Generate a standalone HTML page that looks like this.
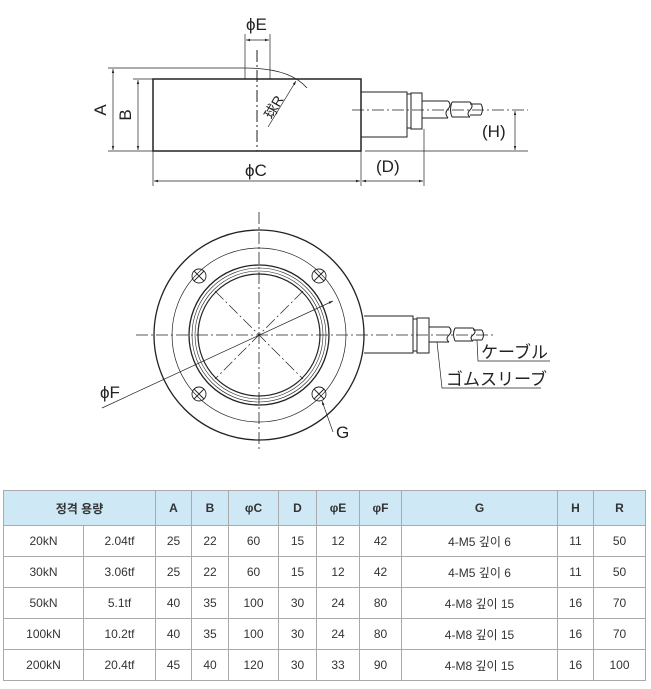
<!DOCTYPE html>
<html><head><meta charset="utf-8"><style>
body{margin:0;background:#fff;width:651px;height:689px;overflow:hidden;position:relative;font-family:"Liberation Sans","Noto Sans CJK KR",sans-serif}
svg{position:absolute;left:0;top:0}
table{position:absolute;left:3px;top:490px;border-collapse:collapse;font-size:12px;color:#333;table-layout:fixed}
td,th{border:1px solid #aaa;text-align:center;padding:0;height:30px}
th{background:#cfe8f5;font-weight:bold;height:34px}
</style></head><body>
<svg width="651" height="480" viewBox="0 0 651 480" font-family="Liberation Sans, Noto Sans CJK JP, sans-serif" fill="none" stroke="#222" stroke-width="1">
<defs><marker id="a" viewBox="0 0 10 10" refX="10" refY="5" markerWidth="6" markerHeight="6" orient="auto-start-reverse"><path d="M0,2 L10,5 L0,8" fill="#222" stroke="none"/></marker></defs>
<rect x="153" y="79" width="208" height="72" stroke-width="1.5"/>
<line x1="257" y1="50" x2="257" y2="151" stroke-dasharray="12,3,2,3"/>
<line x1="108" y1="68" x2="245" y2="68" stroke-width="0.7"/>
<line x1="133" y1="79" x2="153" y2="79" stroke-width="0.7"/>
<line x1="108" y1="151" x2="153" y2="151" stroke-width="0.7"/>
<line x1="113" y1="69" x2="113" y2="150" marker-start="url(#a)" marker-end="url(#a)" stroke-width="0.7"/>
<line x1="138" y1="80" x2="138" y2="150" marker-start="url(#a)" marker-end="url(#a)" stroke-width="0.7"/>
<line x1="245" y1="34" x2="245" y2="79" stroke-width="0.7"/>
<line x1="270" y1="34" x2="270" y2="79" stroke-width="0.7"/>
<line x1="246" y1="40" x2="269" y2="40" marker-start="url(#a)" marker-end="url(#a)" stroke-width="0.7"/>
<path d="M245,68 Q290,68 307,88" stroke-width="0.8"/>
<line x1="268" y1="127" x2="296" y2="81" marker-end="url(#a)" stroke-width="0.7"/>
<rect x="361" y="92" width="46" height="45"/>
<rect x="407" y="94" width="4" height="34"/>
<rect x="411" y="93" width="11" height="36"/>
<path d="M422,101 H448 M422,118 H448 M448,101 q4,4 0,8 q-4,4 0,9"/>
<path d="M452,102 H470 M452,117 H470 M452,102 q-3,8 0,15 M470,102 q4,4 0,8 q-4,4 0,7 M470,104 H481 M470,115 H481 M481,104 q3,5 0,11"/>
<line x1="352" y1="110" x2="528" y2="110" stroke-dasharray="12,3,2,3" stroke-width="0.8"/>
<line x1="365" y1="151" x2="528" y2="151" stroke-width="0.7"/>
<line x1="515" y1="111" x2="515" y2="150" marker-start="url(#a)" marker-end="url(#a)" stroke-width="0.7"/>
<line x1="153" y1="151" x2="153" y2="186" stroke-width="0.7"/>
<line x1="361" y1="151" x2="361" y2="186" stroke-width="0.7"/>
<line x1="424" y1="129" x2="424" y2="186" stroke-width="0.7"/>
<line x1="154" y1="181" x2="360" y2="181" marker-start="url(#a)" marker-end="url(#a)" stroke-width="0.7"/>
<line x1="362" y1="181" x2="423" y2="181" marker-start="url(#a)" marker-end="url(#a)" stroke-width="0.7"/>
<g fill="#222" stroke="none" font-size="17">
<text x="246" y="30">ϕE</text>
<text x="245" y="176">ϕC</text>
<text x="376" y="172">(D)</text>
<text x="482" y="137">(H)</text>
<text transform="translate(106,110) rotate(-90)" text-anchor="middle">A</text>
<text transform="translate(131,115) rotate(-90)" text-anchor="middle">B</text>
<text transform="translate(272,120) rotate(-60)" font-size="14">球R</text>
</g>
<line x1="259" y1="212" x2="259" y2="450" stroke-dasharray="12,3,2,3" stroke-width="0.8"/>
<line x1="136" y1="335" x2="495" y2="335" stroke-dasharray="12,3,2,3" stroke-width="0.8"/>
<circle cx="259" cy="335" r="105" stroke-width="1.3"/>
<circle cx="259" cy="335" r="87" stroke-width="0.7"/>
<circle cx="259" cy="335" r="70" stroke-width="1.3"/>
<circle cx="259" cy="335" r="67" stroke-width="0.6"/>
<circle cx="259" cy="335" r="64" stroke-width="0.6"/>
<circle cx="259" cy="335" r="61" stroke-width="1.2"/>
<g stroke-dasharray="12,3,2,3" stroke-width="0.7"><line x1="215" y1="291" x2="303" y2="379"/><line x1="303" y1="291" x2="215" y2="379"/></g>
<g stroke-width="0.9">
<circle cx="199" cy="276" r="7"/><path d="M194,271 l10,10 M204,271 l-10,10"/>
<circle cx="319" cy="276" r="7"/><path d="M314,271 l10,10 M324,271 l-10,10"/>
<circle cx="199" cy="394" r="7"/><path d="M194,389 l10,10 M204,389 l-10,10"/>
<circle cx="319" cy="394" r="7"/><path d="M314,389 l10,10 M324,389 l-10,10"/>
</g>
<line x1="102" y1="408" x2="333" y2="301" marker-end="url(#a)" stroke-width="0.7"/>
<line x1="333" y1="432" x2="322" y2="401" marker-end="url(#a)" stroke-width="0.7"/>
<path d="M364,316 H413 V353 H364"/>
<rect x="413" y="319" width="4" height="32"/>
<rect x="417" y="318" width="12" height="35"/>
<path d="M429,327 H449 M429,342 H449 M449,327 q4,4 0,8 q-4,4 0,7"/>
<path d="M455,328 H473 M455,341 H473 M455,328 q-3,6 0,13 M473,328 q4,4 0,7 q-4,3 0,6 M473,330 H482 M473,340 H482 M482,330 q3,5 0,10"/>
<path d="M437,342 L442,388 H541" stroke-width="0.7"/>
<path d="M477,340 L478,361 H550" stroke-width="0.7"/>
<g fill="#222" stroke="none" font-size="17">
<text x="100" y="398">ϕF</text>
<text x="336" y="438">G</text>
<text x="481" y="358">ケーブル</text>
<text x="446" y="385">ゴムスリーブ</text>
</g>
</svg>
<table>
<colgroup><col style="width:80px"><col style="width:72px"><col style="width:36px"><col style="width:37px"><col style="width:50px"><col style="width:38px"><col style="width:43px"><col style="width:42px"><col style="width:156px"><col style="width:36px"><col style="width:52px"></colgroup>
<tr><th colspan="2">정격 용량</th><th>A</th><th>B</th><th>φC</th><th>D</th><th>φE</th><th>φF</th><th>G</th><th>H</th><th>R</th></tr>
<tr><td>20kN</td><td>2.04tf</td><td>25</td><td>22</td><td>60</td><td>15</td><td>12</td><td>42</td><td>4-M5 깊이 6</td><td>11</td><td>50</td></tr>
<tr><td>30kN</td><td>3.06tf</td><td>25</td><td>22</td><td>60</td><td>15</td><td>12</td><td>42</td><td>4-M5 깊이 6</td><td>11</td><td>50</td></tr>
<tr><td>50kN</td><td>5.1tf</td><td>40</td><td>35</td><td>100</td><td>30</td><td>24</td><td>80</td><td>4-M8 깊이 15</td><td>16</td><td>70</td></tr>
<tr><td>100kN</td><td>10.2tf</td><td>40</td><td>35</td><td>100</td><td>30</td><td>24</td><td>80</td><td>4-M8 깊이 15</td><td>16</td><td>70</td></tr>
<tr><td>200kN</td><td>20.4tf</td><td>45</td><td>40</td><td>120</td><td>30</td><td>33</td><td>90</td><td>4-M8 깊이 15</td><td>16</td><td>100</td></tr>
</table>
</body></html>
